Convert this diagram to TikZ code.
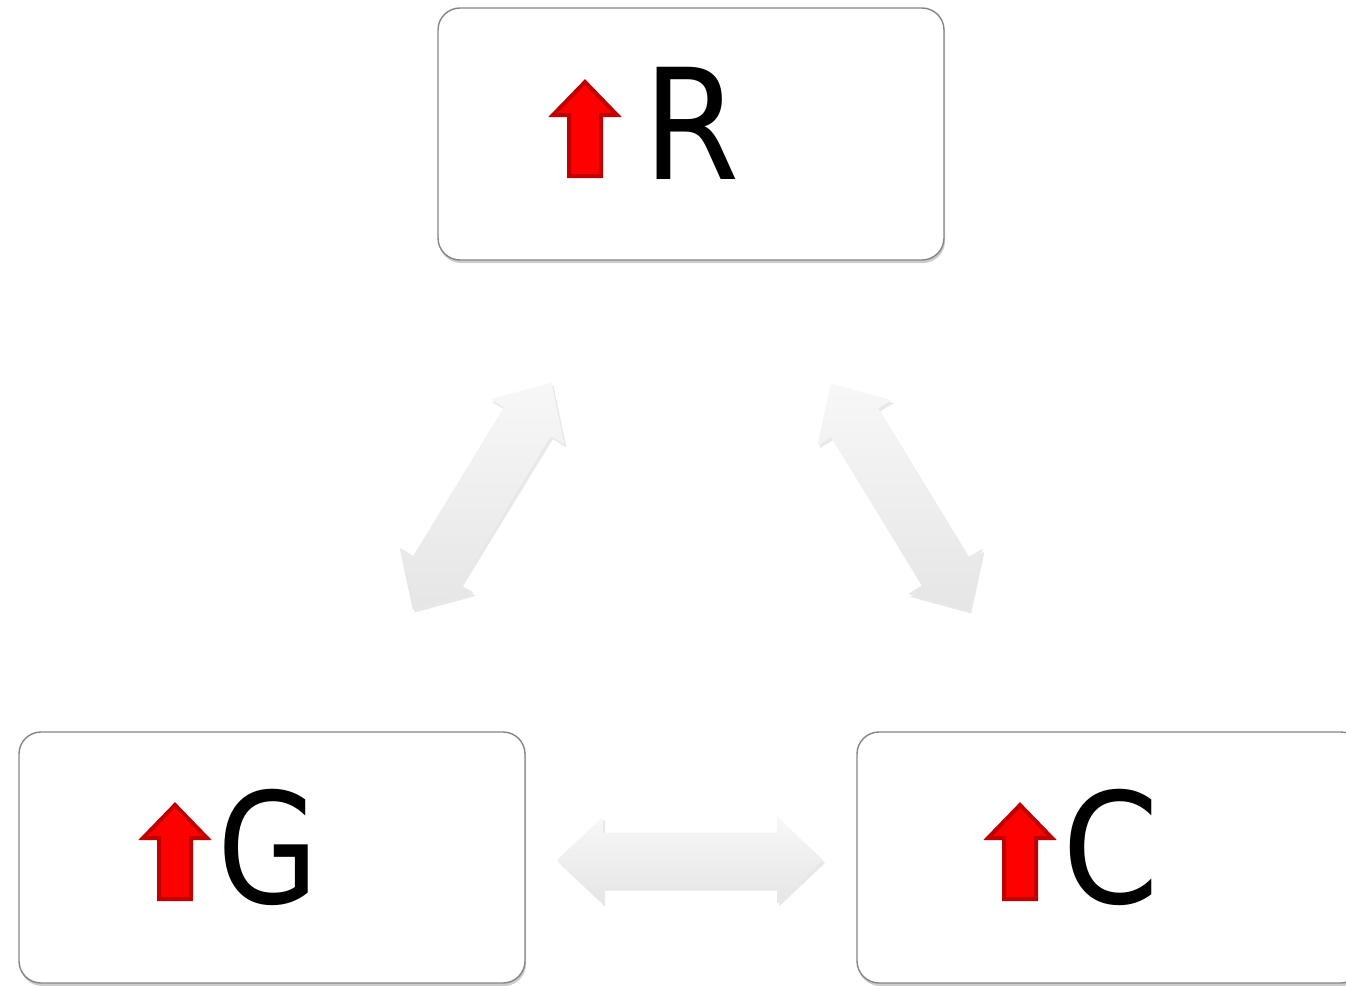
\documentclass[tikz,border=0pt]{standalone}
\usepackage{fontspec}
\setmainfont{DejaVu Sans}
\usetikzlibrary{shadows}
\definecolor{boxline}{HTML}{858585}
\definecolor{arrred}{HTML}{FF0000}
\definecolor{arrdark}{HTML}{C00000}
\tikzset{
  card/.style={draw=boxline, line width=1.4pt, fill=white, rounded corners=22pt,
    minimum width=506pt, minimum height=252pt, inner sep=0pt,
    drop shadow={opacity=0.4, shadow xshift=1pt, shadow yshift=-3pt}},
  letter/.style={inner sep=0pt, anchor=base, font=\fontsize{154}{160}\selectfont},
  redup/.style={fill=arrred, draw=arrdark, line width=4pt, line join=miter},
  blockarrow/.style={top color=black!3, bottom color=black!10, draw=none,
    drop shadow={opacity=0.18, shadow xshift=2pt, shadow yshift=-3pt}},
  uparrow/.pic={
    \path[redup] (-16,-2) -- (-16,-63) -- (-32,-63) -- (0,-96) -- (32,-63)
      -- (16,-63) -- (16,-2) -- cycle;
  },
  dblarrow/.pic={
    \path[blockarrow] (-133,0) -- (-87,-43.5) -- (-87,-27.5) -- (87,-27.5) -- (87,-43.5)
      -- (133,0) -- (87,43.5) -- (87,27.5) -- (-87,27.5) -- (-87,43.5) -- cycle;
  }
}
\newcommand{\narrow}[2][0.9]{\scalebox{#1}[1]{#2}}
\begin{document}
\begin{tikzpicture}[x=1pt,y=-1pt]
\useasboundingbox (0,0) rectangle (1346,985);
\clip (0,0) rectangle (1346,985);
% boxes
\node[card] (boxR) at (691,134) {};
\node[card, minimum height=251pt] (boxG) at (272,857.5) {};
\node[card, minimum height=251pt] (boxC) at (1110,857.5) {};
% up arrows and letters
\pic (upR) at (585,178) {uparrow};
\node[letter] (labR) at (692,179) {\narrow{R}};
\pic (upG) at (175,901) {uparrow};
\node[letter] (labG) at (268,903) {\narrow[0.85]{G}};
\pic (upC) at (1020,901) {uparrow};
\node[letter] (labC) at (1111,903) {\narrow{C}};
% gray double arrows
\pic[rotate=58.6] (arrGR) at (482,496) {dblarrow};
\pic[rotate=-58.6] (arrRC) at (900,497) {dblarrow};
\pic (arrGC) at (690,860) {dblarrow};
\end{tikzpicture}
\end{document}
